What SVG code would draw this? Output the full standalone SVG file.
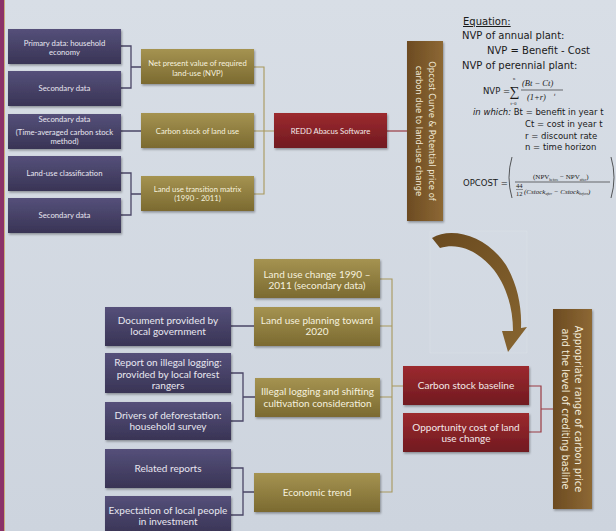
<svg xmlns="http://www.w3.org/2000/svg" width="616" height="531" viewBox="0 0 616 531">
  <defs>
    <linearGradient id="bg" x1="0" y1="0" x2="0" y2="1">
      <stop offset="0" stop-color="#d8dee6"/>
      <stop offset="1" stop-color="#cdd4de"/>
    </linearGradient>
    <linearGradient id="gDark" x1="0" y1="0" x2="0" y2="1">
      <stop offset="0" stop-color="#55507a"/>
      <stop offset="1" stop-color="#393455"/>
    </linearGradient>
    <linearGradient id="gOlive" x1="0" y1="0" x2="0" y2="1">
      <stop offset="0" stop-color="#a59351"/>
      <stop offset="1" stop-color="#7b6a30"/>
    </linearGradient>
    <linearGradient id="gRed" x1="0" y1="0" x2="0" y2="1">
      <stop offset="0" stop-color="#9c2a2f"/>
      <stop offset="1" stop-color="#711a20"/>
    </linearGradient>
    <linearGradient id="gBrown" x1="0" y1="0" x2="1" y2="0">
      <stop offset="0" stop-color="#6c4b22"/>
      <stop offset="1" stop-color="#8d6834"/>
    </linearGradient>
    <linearGradient id="gArrow" x1="0" y1="0" x2="1" y2="1">
      <stop offset="0" stop-color="#6a4a1f"/>
      <stop offset="1" stop-color="#876530"/>
    </linearGradient>
    <filter id="shadow" x="-10%" y="-20%" width="125%" height="150%">
      <feDropShadow dx="1" dy="1.5" stdDeviation="1" flood-color="#000" flood-opacity="0.35"/>
    </filter>
    <style>
      .dark { fill: url(#gDark); filter: url(#shadow); }
      .olive { fill: url(#gOlive); filter: url(#shadow); }
      .red { fill: url(#gRed); filter: url(#shadow); }
      .brown { fill: url(#gBrown); filter: url(#shadow); }
      .lbl { font-family: Lato, "Open Sans", sans-serif; text-anchor: middle; }
      .s { font-size: 7.7px; }
      .m { font-size: 10px; }
      .tD { fill: #e8e7f0; }
      .tO { fill: #f5f1de; }
      .tR { fill: #f3e8e8; }
      .vt { font-family: "DejaVu Sans", sans-serif; fill: #f2ead8; text-anchor: middle; }
      .eq { font-family: "DejaVu Sans", sans-serif; font-size: 10px; fill: #1a1a1a; }
      .eqs { font-family: "DejaVu Sans", sans-serif; font-size: 8.5px; fill: #1a1a1a; }
      .math { font-family: "Liberation Serif", serif; fill: #1a1a1a; }
      .cD { stroke: #4a4566; stroke-width: 1.3; fill: none; }
      .cO { stroke: #a8985c; stroke-width: 1.1; fill: none; }
      .cR { stroke: #9a3a42; stroke-width: 1.2; fill: none; }
    </style>
  </defs>

  <!-- backdrop and left band -->
  <rect width="616" height="531" fill="url(#bg)"/>
  <rect x="0" y="0" width="4" height="531" fill="#8b3268"/>
  <rect x="4" y="0" width="1" height="531" fill="#c8ab7a"/>

  <!-- connectors -->
  <g id="connectors">
    <path class="cD" d="M121,46 H131 V88 H121 M131,67 H141 M121,131 H141 M121,173 H131 V215 H121 M131,194 H141"/>
    <path class="cO" d="M254,67 H264 V194 H254 M254,131 H274"/>
    <path class="cR" d="M387,131 H407"/>
    <path class="cD" d="M231,326 H254 M231,373 H243 V421 H231 M243,397 H255 M231,468 H243 V515 H231 M243,492 H254"/>
    <path class="cO" d="M380,279 H392 V492 H380 M380,326 H392 M380,397 H392 M392,386 H403"/>
    <path class="cR" d="M529,386 H541 V432 H529 M541,409 H553"/>
  </g>

  <!-- upper chain: data sources -->
  <g id="src-household">
    <rect class="dark" x="8" y="29" width="113" height="35"/>
    <text class="lbl s tD" x="64.5" y="45.5">Primary data: household</text>
    <text class="lbl s tD" x="64.5" y="54.5">economy</text>
  </g>
  <g id="src-secondary-1">
    <rect class="dark" x="8" y="71" width="113" height="35"/>
    <text class="lbl s tD" x="64.5" y="91">Secondary data</text>
  </g>
  <g id="src-carbon">
    <rect class="dark" x="8" y="114" width="113" height="35"/>
    <text class="lbl s tD" x="64.5" y="122">Secondary data</text>
    <text class="lbl s tD" x="64.5" y="134.5">(Time-averaged carbon stock</text>
    <text class="lbl s tD" x="64.5" y="144">method)</text>
  </g>
  <g id="src-classification">
    <rect class="dark" x="8" y="156" width="113" height="35"/>
    <text class="lbl s tD" x="64.5" y="176">Land-use classification</text>
  </g>
  <g id="src-secondary-2">
    <rect class="dark" x="8" y="198" width="113" height="35"/>
    <text class="lbl s tD" x="64.5" y="218">Secondary data</text>
  </g>

  <!-- upper chain: derived inputs -->
  <g id="npv">
    <rect class="olive" x="141" y="49" width="113" height="35"/>
    <text class="lbl s tO" x="197.5" y="66">Net present value of required</text>
    <text class="lbl s tO" x="197.5" y="75.5">land-use (NVP)</text>
  </g>
  <g id="carbon-stock">
    <rect class="olive" x="141" y="113" width="113" height="35"/>
    <text class="lbl s tO" x="197.5" y="133.5">Carbon stock of land use</text>
  </g>
  <g id="transition-matrix">
    <rect class="olive" x="141" y="176" width="113" height="35"/>
    <text class="lbl s tO" x="197.5" y="192">Land use transition matrix</text>
    <text class="lbl s tO" x="197.5" y="201">(1990 - 2011)</text>
  </g>
  <g id="redd-abacus">
    <rect class="red" x="274" y="113" width="113" height="35"/>
    <text class="lbl s tR" x="330.5" y="133.5">REDD Abacus Software</text>
  </g>
  <g id="opcost-curve">
    <rect class="brown" x="407" y="41" width="36" height="180"/>
    <text class="vt" font-size="8.4" transform="translate(428.5,131) rotate(90)">Opcost Curve &amp; Potential price of</text>
    <text class="vt" font-size="8.4" transform="translate(415.5,131) rotate(90)">carbon due to land-use change</text>
  </g>

  <!-- equations -->
  <g id="equations">
    <text class="eq" x="463" y="25" text-decoration="underline">Equation:</text>
    <text class="eq" x="462" y="39">NVP of annual plant:</text>
    <text class="eq" x="487" y="54">NVP = Benefit - Cost</text>
    <text class="eq" x="462" y="69">NVP of perennial plant:</text>
    <text class="eqs" font-size="6.8" x="483" y="94">NVP =</text>
    <text class="math" font-size="14" x="509.5" y="96">∑</text>
    <text class="math" font-size="4.5" x="513" y="80">n</text>
    <text class="math" font-size="4.5" x="510.5" y="105">t=0</text>
    <text class="math" font-size="8.5" font-style="italic" x="522" y="86">(Bt − Ct)</text>
    <line x1="521" y1="90" x2="563" y2="90" stroke="#1a1a1a" stroke-width="0.6"/>
    <text class="math" font-size="8.5" font-style="italic" x="527" y="100">(1+r)</text>
    <text class="math" font-size="5" font-style="italic" x="554" y="96">t</text>
    <text class="eqs" x="473" y="115"><tspan font-style="italic">in which:</tspan> Bt = benefit in year t</text>
    <text class="eqs" x="525" y="127">Ct = cost in year t</text>
    <text class="eqs" x="525" y="138.5">r = discount rate</text>
    <text class="eqs" x="525" y="150">n = time horizon</text>
    <text class="eqs" x="463" y="186">OPCOST =</text>
    <path d="M512,157 Q506,177.5 512,198 M611,157 Q617,177.5 611,198" fill="none" stroke="#1a1a1a" stroke-width="0.7"/>
    <text class="math" font-size="7" x="533" y="179">(NPV<tspan font-size="3.5" dy="1.5">before</tspan><tspan dy="-1.5"> − NPV</tspan><tspan font-size="3.5" dy="1.5">after</tspan><tspan dy="-1.5">)</tspan></text>
    <line x1="515" y1="182" x2="610" y2="182" stroke="#1a1a1a" stroke-width="0.6"/>
    <text class="math" font-size="6.5" x="516" y="188">44</text>
    <line x1="516" y1="189.5" x2="523" y2="189.5" stroke="#1a1a1a" stroke-width="0.4"/>
    <text class="math" font-size="6.5" x="516" y="196">12</text>
    <text class="math" font-size="7" font-style="italic" x="524" y="193.5">(Cstock<tspan font-size="3.5" dy="1.5">after</tspan><tspan dy="-1.5"> − Cstock</tspan><tspan font-size="3.5" dy="1.5">before</tspan><tspan dy="-1.5">)</tspan></text>
  </g>

  <!-- bending arrow -->
  <g id="bend-arrow">
    <rect x="430" y="231" width="97" height="122" fill="#ffffff" fill-opacity="0.04" stroke="#ffffff" stroke-opacity="0.22" stroke-width="0.6"/>
    <path d="M432,238 C452,226 487,236 506,265 C517,284 522,306 521,328 L527,327 L508,352 L502,331 L513,331 C513,307 506,286 494,270 C479,252 460,242 440,248 Z" fill="url(#gArrow)"/>
  </g>

  <!-- lower chain: sources -->
  <g id="src-government">
    <rect class="dark" x="105" y="307" width="126" height="39"/>
    <text class="lbl m tD" x="168" y="324">Document provided by</text>
    <text class="lbl m tD" x="168" y="335">local government</text>
  </g>
  <g id="src-rangers">
    <rect class="dark" x="105" y="353" width="126" height="40"/>
    <text class="lbl m tD" x="168" y="366">Report on illegal logging:</text>
    <text class="lbl m tD" x="168" y="377.5">provided by local forest</text>
    <text class="lbl m tD" x="168" y="388.5">rangers</text>
  </g>
  <g id="src-drivers">
    <rect class="dark" x="105" y="402" width="126" height="38"/>
    <text class="lbl m tD" x="168" y="419">Drivers of deforestation:</text>
    <text class="lbl m tD" x="168" y="430">household survey</text>
  </g>
  <g id="src-reports">
    <rect class="dark" x="105" y="449" width="126" height="39"/>
    <text class="lbl m tD" x="168" y="472">Related reports</text>
  </g>
  <g id="src-expectation">
    <rect class="dark" x="105" y="496" width="126" height="38"/>
    <text class="lbl m tD" x="168" y="514">Expectation of local people</text>
    <text class="lbl m tD" x="168" y="525">in investment</text>
  </g>

  <!-- lower chain: considerations -->
  <g id="land-use-change">
    <rect class="olive" x="254" y="259" width="126" height="39"/>
    <text class="lbl m tO" x="317" y="277.5">Land use change 1990 –</text>
    <text class="lbl m tO" x="317" y="288.5">2011 (secondary data)</text>
  </g>
  <g id="land-use-planning">
    <rect class="olive" x="254" y="307" width="126" height="39"/>
    <text class="lbl m tO" x="317" y="324">Land use planning toward</text>
    <text class="lbl m tO" x="317" y="335">2020</text>
  </g>
  <g id="illegal-logging">
    <rect class="olive" x="255" y="378" width="125" height="39"/>
    <text class="lbl m tO" x="317.5" y="395">Illegal logging and shifting</text>
    <text class="lbl m tO" x="317.5" y="406.5">cultivation consideration</text>
  </g>
  <g id="economic-trend">
    <rect class="olive" x="254" y="473" width="126" height="39"/>
    <text class="lbl m tO" x="317" y="496">Economic trend</text>
  </g>

  <!-- lower chain: outputs -->
  <g id="carbon-baseline">
    <rect class="red" x="403" y="366" width="126" height="39"/>
    <text class="lbl m tR" x="466" y="389">Carbon stock baseline</text>
  </g>
  <g id="opportunity-cost">
    <rect class="red" x="403" y="413" width="126" height="39"/>
    <text class="lbl m tR" x="466" y="431">Opportunity cost of land</text>
    <text class="lbl m tR" x="466" y="442">use change</text>
  </g>
  <g id="carbon-price">
    <rect class="brown" x="553" y="309" width="39" height="200"/>
    <text class="vt" font-size="9.8" transform="translate(575,409) rotate(90)">Appropriate range of carbon price</text>
    <text class="vt" font-size="9.8" transform="translate(562,409) rotate(90)">and the level of crediting basline</text>
  </g>
</svg>
